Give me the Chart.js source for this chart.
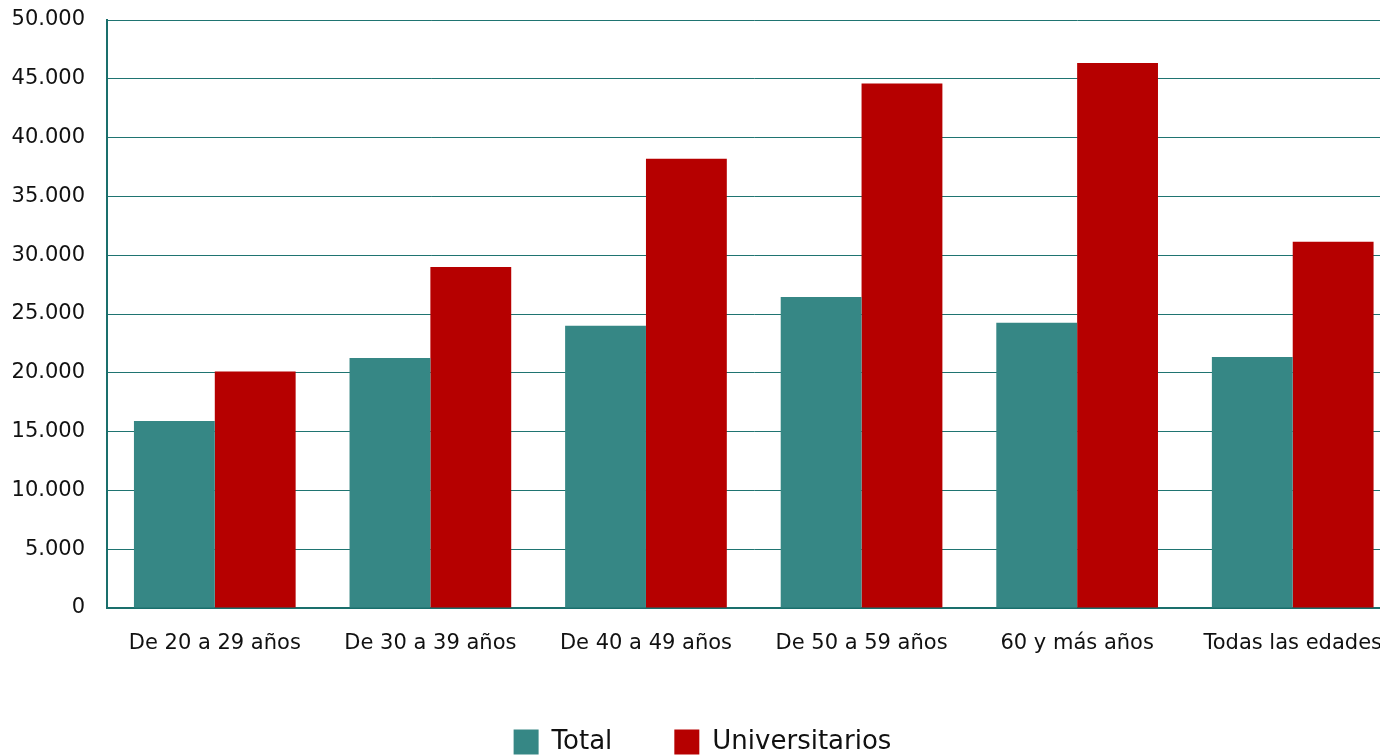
<!DOCTYPE html>
<html>
<head>
<meta charset="utf-8">
<script src="https://cdn.jsdelivr.net/npm/chart.js@4.4.0/dist/chart.umd.min.js"></script>
<style>
  html, body { margin: 0; padding: 0; overflow: hidden; background: #fff; }
  #wrap { width: 1405px; height: 765px; }
</style>
</head>
<body>
<div id="wrap"><canvas id="ingresos-canvas" width="1405" height="765"></canvas></div>
<script>
const categorias = ["De 20 a 29 años", "De 30 a 39 años", "De 40 a 49 años", "De 50 a 59 años", "60 y más años", "Todas las edades"]
const total = [15900, 21250, 24000, 26450, 24250, 21350]
const universitarios = [20100, 29000, 38200, 44600, 46350, 31150]
const yTicks = [0, 5000, 10000, 15000, 20000, 25000, 30000, 35000, 40000, 45000, 50000]

const fmt = v => String(v).replace(/\B(?=(\d{3})+(?!\d))/g, ".")

const canvas = document.querySelector("#ingresos-canvas")

new Chart(canvas, {
    type: "bar",
    data: {
        labels: categorias,
        datasets: [
            {label: "Total", data: total, backgroundColor: "#368785", categoryPercentage: 0.75, barPercentage: 1.0},
            {label: "Universitarios", data: universitarios, backgroundColor: "#b60000", categoryPercentage: 0.75, barPercentage: 1.0}
        ]
    },
    options: {
        responsive: false,
        animation: false,
        layout: {padding: {top: 20, right: 0, left: 0, bottom: 0}},
        scales: {
            x: {
                afterFit: s => { s.height = 59 },
                grid: {display: false, drawTicks: false},
                border: {color: "#1a6f6c", width: 2},
                ticks: {color: "#111", font: {family: "DejaVu Sans", size: 21}, padding: 23}
            },
            y: {
                min: 0,
                max: 50000,
                afterFit: s => { s.width = 107 },
                afterBuildTicks: s => { s.ticks = yTicks.map(v => ({value: v})) },
                // invisible tick marks just push the labels away from the axis
                grid: {color: "#1f7471", lineWidth: 1, drawTicks: true, tickLength: 22, tickColor: "rgba(0,0,0,0)"},
                border: {color: "#1a6f6c", width: 2},
                ticks: {color: "#111", font: {family: "DejaVu Sans", size: 21}, padding: 0, callback: v => fmt(v)}
            }
        },
        plugins: {
            legend: {
                position: "bottom",
                labels: {
                    color: "#111",
                    font: {family: "DejaVu Sans", size: 26},
                    boxWidth: 25,
                    boxHeight: 25,
                    padding: 62
                }
            },
            tooltip: {enabled: false}
        }
    }
})
</script>
</body>
</html>
